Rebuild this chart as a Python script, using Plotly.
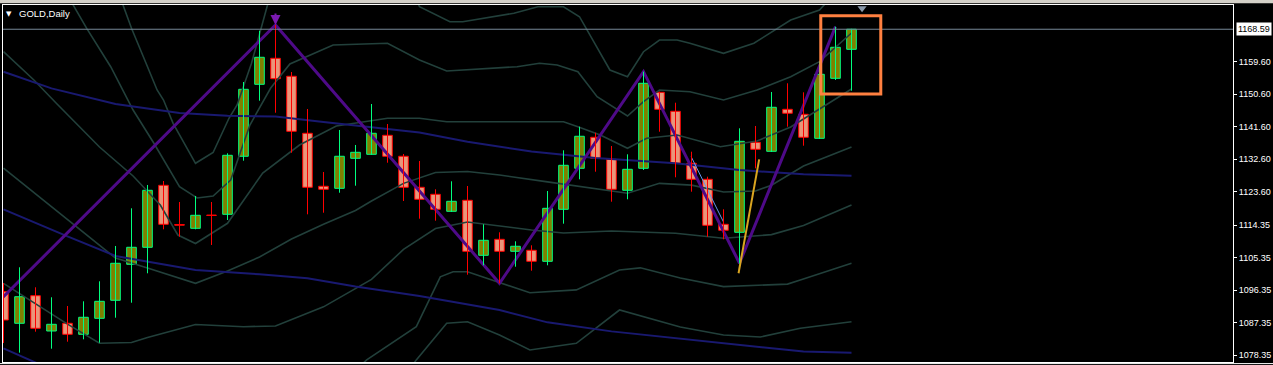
import plotly.graph_objects as go

# ---------------- data ----------------
symbol_label = "GOLD,Daily"
last_price = 1168.59

opens = [1095.89, 1087.14, 1094.78, 1085.0, 1087.14, 1084.09, 1088.52, 1093.51, 1103.48, 1108.19,
         1125.36, 1114.5, 1113.45, 1117.1, 1117.33, 1133.4, 1153.34, 1160.54, 1155.56, 1139.77,
         1125.09, 1124.53, 1132.84, 1133.95, 1139.21, 1133.4, 1124.81, 1122.87, 1118.16, 1121.21,
         1105.97, 1110.4, 1107.08, 1107.36, 1104.31, 1118.71, 1130.07, 1138.66, 1132.56, 1123.98,
         1130.07, 1151.12, 1145.86, 1131.46, 1127.02, 1114.56, 1112.34, 1137.27, 1134.78, 1146.41,
         1145.03, 1138.38, 1155.0, 1163.03]
highs = [1098.3, 1102.65, 1097.11, 1094.34, 1091.93, 1093.23, 1098.77, 1108.55, 1118.99, 1125.45,
         1126.55, 1120.74, 1122.4, 1120.74, 1134.23, 1153.98, 1168.19, 1169.77, 1156.75, 1146.5,
         1129.05, 1140.68, 1136.53, 1147.88, 1142.34, 1134.03, 1132.09, 1124.25, 1126.47, 1125.17,
         1114.56, 1112.34, 1109.85, 1108.74, 1123.78, 1135.06, 1141.6, 1139.93, 1136.25, 1133.95,
         1156.83, 1151.3, 1148.24, 1134.67, 1127.74, 1118.71, 1141.15, 1141.79, 1151.21, 1153.62,
         1151.12, 1159.7, 1169.3, 1168.7]
lows = [1081.68, 1079.0, 1084.81, 1080.1, 1082.04, 1082.7, 1081.76, 1088.69, 1092.84, 1100.99,
        1113.17, 1111.12, 1113.17, 1108.83, 1115.75, 1132.18, 1148.8, 1145.47, 1134.39, 1117.33,
        1117.77, 1123.31, 1125.25, 1133.8, 1131.62, 1121.01, 1116.11, 1115.56, 1118.0, 1100.6,
        1103.2, 1098.22, 1102.81, 1101.71, 1103.2, 1114.73, 1127.02, 1129.13, 1120.82, 1121.48,
        1129.6, 1140.21, 1127.58, 1123.59, 1111.12, 1110.4, 1103.76, 1130.07, 1134.6, 1141.6,
        1136.33, 1138.2, 1154.53, 1151.57]
closes = [1088.05, 1094.5, 1085.75, 1086.86, 1084.09, 1088.8, 1093.23, 1103.76, 1108.19, 1123.98,
          1114.56, 1114.3, 1117.05, 1117.0, 1133.67, 1151.95, 1160.82, 1154.89, 1140.32, 1124.81,
          1124.25, 1133.4, 1134.5, 1139.77, 1133.4, 1124.81, 1121.48, 1118.71, 1120.93, 1107.08,
          1110.13, 1107.08, 1108.47, 1104.31, 1118.99, 1130.9, 1138.94, 1132.84, 1124.25, 1129.79,
          1153.62, 1146.41, 1131.46, 1127.02, 1114.28, 1112.9, 1137.55, 1135.33, 1146.97, 1145.31,
          1138.66, 1156.11, 1163.59, 1168.59]

# band lines (bar index, price)
bb_mid_x = [0, 4, 7, 9, 12, 14, 16, 18, 20, 22, 23, 25, 27, 29, 31, 34, 37, 39, 41, 43, 45, 47, 48, 50, 53]
bb_mid_y = [1130.15, 1115.75, 1105.2, 1102.45, 1098.2, 1101.6, 1105.5, 1110.5, 1114.6, 1118.4, 1121.0,
            1125.9, 1128.9, 1129.2, 1128.2, 1126.3, 1124.5, 1123.15, 1125.9, 1125.4, 1123.5, 1123.8,
            1125.4, 1130.7, 1136.0]
bb_up1_x = [0, 1.9, 3.3, 6.0, 8.1, 9.8, 10.9, 12.0, 14.0, 16.2, 18.5, 20.8, 24.0, 26.0, 27.7, 32.1,
            35.0, 35.9, 37.3, 39.0, 40.2, 42.1, 44.8, 47.1, 49.2, 53.0]
bb_up1_y = [1162.37, 1154.53, 1148.08, 1135.97, 1127.94, 1119.9, 1111.59, 1109.24, 1114.84, 1128.77,
            1136.52, 1141.79, 1143.92, 1143.92, 1142.98, 1142.98, 1142.98, 1141.59, 1139.29, 1135.61,
            1138.38, 1139.29, 1136.05, 1137.63, 1141.51, 1152.04]
bb_up2_x = [4.0, 5.2, 6.7, 7.4, 8.1, 9.4, 11.0, 12.1, 13.1, 14.2, 15.4, 16.7, 17.9, 20.6, 24.0, 26.0,
            27.7, 32.1, 33.5, 34.6, 35.9, 37.1, 39.0, 40.0, 41.0, 42.9, 45.0, 47.1, 49.2, 51.0, 53.0]
bb_up2_y = [1178.0, 1168.85, 1158.21, 1152.31, 1146.22, 1137.0, 1124.97, 1121.84, 1122.4, 1126.83,
            1142.06, 1152.31, 1158.96, 1164.22, 1164.7, 1160.07, 1157.02, 1158.21, 1159.16, 1158.69,
            1156.83, 1149.9, 1144.56, 1148.52, 1151.76, 1151.29, 1148.99, 1151.76, 1155.44, 1159.6,
            1167.55]
bb_up3_x = [7.0, 8.0, 9.0, 9.6, 10.0, 10.6, 12.0, 13.1, 14.1, 14.6, 15.5, 16.5, 17.0, 25.3, 26.0,
            27.9, 28.7, 31.9, 33.4, 35.0, 36.0, 37.9, 39.0, 40.0, 41.0, 42.1, 42.9, 45.0, 46.9, 49.2,
            51.0, 53.0]
bb_up3_y = [1181.0, 1168.85, 1158.21, 1151.76, 1148.99, 1142.54, 1131.46, 1134.45, 1144.0, 1147.6,
            1159.16, 1175.3, 1182.0, 1182.0, 1174.83, 1170.68, 1170.68, 1173.01, 1174.83, 1174.83,
            1172.06, 1157.3, 1155.44, 1162.37, 1165.61, 1165.61, 1164.7, 1161.93, 1164.7, 1171.15,
            1173.92, 1183.6]
bb_lo1_x = [0, 4, 6, 8, 9, 12, 15, 17, 20, 23, 25, 27, 29, 33, 35, 38, 42, 45, 48, 50, 53]
bb_lo1_y = [1098.2, 1086.9, 1081.6, 1081.8, 1083.2, 1086.8, 1086.2, 1086.4, 1091.7, 1099.3, 1107.6,
            1113.4, 1115.2, 1113.0, 1112.15, 1112.7, 1112.1, 1110.7, 1111.7, 1114.2, 1119.9]
bb_lo2_x = [21.5, 22.7, 25.8, 27.3, 28.1, 29.0, 32.9, 35.8, 38.5, 39.8, 42.3, 45.0, 49.0, 49.8, 53.0]
bb_lo2_y = [1072.0, 1077.0, 1086.2, 1100.0, 1101.4, 1101.4, 1095.6, 1096.4, 1101.9, 1102.5, 1099.7,
            1097.3, 1098.0, 1099.1, 1103.8]
bb_lo3_x = [25.0, 25.8, 27.7, 29.0, 31.0, 32.9, 35.8, 38.5, 42.3, 45.0, 47.3, 49.8, 53.0]
bb_lo3_y = [1072.0, 1077.0, 1087.14, 1087.58, 1083.9, 1079.74, 1081.6, 1090.82, 1086.11, 1083.9,
            1083.34, 1085.75, 1087.58]

# moving averages (navy)
ma1_x = [0, 3, 7, 11, 14, 17, 20, 23, 26, 29, 33, 37, 42, 46, 50, 53]
ma1_y = [1156.8, 1152.2, 1147.9, 1145.4, 1144.6, 1144.4, 1142.9, 1141.5, 1140.0, 1137.4, 1134.7,
         1132.9, 1131.5, 1129.6, 1128.4, 1128.0]
ma2_x = [0, 4, 7, 12, 16, 19, 22, 26, 31, 34, 38, 43, 50, 53]
ma2_y = [1118.7, 1111.2, 1105.8, 1101.9, 1100.7, 1099.6, 1097.3, 1094.7, 1090.8, 1087.4, 1084.9,
         1082.5, 1079.3, 1079.0]
ma3_x = [0, 3]
ma3_y = [1080.2, 1074.3]

# zigzag and small drawings
zigzag_x = [-1, 17, 31, 40, 46, 52]
zigzag_y = [1090.1, 1169.77, 1098.22, 1156.83, 1103.76, 1169.3]
gold_line_x = [45.94, 47.23]
gold_line_y = [1100.99, 1132.56]
blue_line_x = [42.98, 45.0]
blue_line_y = [1133.28, 1115.2]
box_x = [51.08, 54.83]
box_y = [1150.65, 1172.34]
peak_arrow = (17, 1169.77)
shift_marker = (53.66, 1174.4)

tick_vals = [1159.60, 1150.60, 1141.60, 1132.60, 1123.60, 1114.35, 1105.35, 1096.35, 1087.35, 1078.35]
tick_text = ["1159.60", "1150.60", "1141.60", "1132.60", "1123.60", "1114.35", "1105.35",
             "1096.35", "1087.35", "1078.35"]

# ---------------- figure ----------------
X0 = -1 / 32
X1 = X0 + 1230 / 16
Y_TOP = 1175.305
Y_BOT = 1076.416

GREY = "#22403B"
NAVY = "#191970"
PURPLE = "#4E0A88"

fig = go.Figure()


def add_line(xs, ys, color, width):
    fig.add_trace(go.Scatter(x=xs, y=ys, mode="lines", line=dict(color=color, width=width),
                             hoverinfo="skip"))


for xs, ys in [(bb_up3_x, bb_up3_y), (bb_up2_x, bb_up2_y), (bb_up1_x, bb_up1_y), (bb_mid_x, bb_mid_y),
               (bb_lo1_x, bb_lo1_y), (bb_lo2_x, bb_lo2_y), (bb_lo3_x, bb_lo3_y)]:
    add_line(xs, ys, GREY, 1.6)
for xs, ys in [(ma1_x, ma1_y), (ma2_x, ma2_y), (ma3_x, ma3_y)]:
    add_line(xs, ys, NAVY, 2)

add_line(zigzag_x, zigzag_y, PURPLE, 3)
add_line(blue_line_x, blue_line_y, "#6495ED", 1)
add_line(gold_line_x, gold_line_y, "#DAA520", 2)

# candles
idx = list(range(len(opens)))
up = [i for i in idx if closes[i] >= opens[i]]
dn = [i for i in idx if closes[i] < opens[i]]


def wick_xy(ids):
    xs, ys = [], []
    for i in ids:
        xs += [i, i, None]
        ys += [lows[i], highs[i], None]
    return xs, ys


for ids, lc, fc in [(up, "#00FF7F", "#808000"), (dn, "#FF0000", "#E9967A")]:
    wx, wy = wick_xy(ids)
    fig.add_trace(go.Scatter(x=wx, y=wy, mode="lines", line=dict(color=lc, width=1), hoverinfo="skip"))
    fig.add_trace(go.Bar(
        x=ids,
        base=[min(opens[i], closes[i]) for i in ids],
        y=[max(abs(closes[i] - opens[i]), 0.12) for i in ids],
        width=0.6,
        marker=dict(color=fc, line=dict(color=lc, width=1)),
        hoverinfo="skip",
    ))

# chart-shift marker
fig.add_trace(go.Scatter(x=[shift_marker[0]], y=[shift_marker[1]], mode="markers",
                         marker=dict(symbol="triangle-down", size=8, color="#8a99aa"),
                         cliponaxis=False, hoverinfo="skip"))

fig.update_layout(
    width=1273, height=365,
    margin=dict(l=3, r=40, t=5, b=3, autoexpand=False),
    paper_bgcolor="black", plot_bgcolor="black",
    showlegend=False, barmode="overlay",
    shapes=[
        dict(type="line", xref="paper", yref="y", x0=0, x1=1, y0=last_price, y1=last_price,
             line=dict(color="#778899", width=1)),
        dict(type="rect", xref="x", yref="y", x0=box_x[0], x1=box_x[1], y0=box_y[0], y1=box_y[1],
             line=dict(color="#FF8040", width=3)),
        dict(type="rect", xref="paper", yref="paper", x0=-0.01, x1=1.04, y0=1.005, y1=1.016,
             fillcolor="#D4D0C8", line=dict(width=0), layer="above"),
        dict(type="line", xref="paper", yref="paper", x0=-0.01, x1=1.04, y0=-0.0045, y1=-0.0045,
             line=dict(color="white", width=1)),
    ],
    annotations=[
        dict(xref="paper", yref="y", x=1, y=last_price, xanchor="left", yanchor="middle", xshift=3,
             text=f"{last_price:.2f}", showarrow=False, bgcolor="white", borderpad=1,
             font=dict(color="black", size=9, family="Liberation Sans")),
        dict(xref="paper", yref="paper", x=0.0008, y=0.975, xanchor="left", yanchor="middle",
             text="▼", showarrow=False, font=dict(color="white", size=7, family="DejaVu Sans")),
        dict(xref="paper", yref="paper", x=0.0117, y=0.975, xanchor="left", yanchor="middle",
             text=symbol_label, showarrow=False, font=dict(color="white", size=9.5, family="Liberation Sans")),
        dict(xref="x", yref="y", x=peak_arrow[0], y=peak_arrow[1], ax=0, ay=-13, text="",
             showarrow=True, arrowhead=2, arrowsize=1, arrowwidth=2, arrowcolor="#7A1AB0"),
    ],
)
fig.update_xaxes(range=[X0, X1], showgrid=False, zeroline=False, showticklabels=False,
                 automargin=False,
                 showline=True, mirror=True, linecolor="white", linewidth=1)
fig.update_yaxes(range=[Y_BOT, Y_TOP], side="right", tickvals=tick_vals, ticktext=tick_text,
                 automargin=False,
                 ticks="outside", ticklen=3, tickcolor="white", tickwidth=1,
                 tickfont=dict(color="white", size=9, family="Liberation Sans"),
                 showgrid=False, zeroline=False, showline=True, mirror=True,
                 linecolor="white", linewidth=1)

fig.write_html("out.html")
